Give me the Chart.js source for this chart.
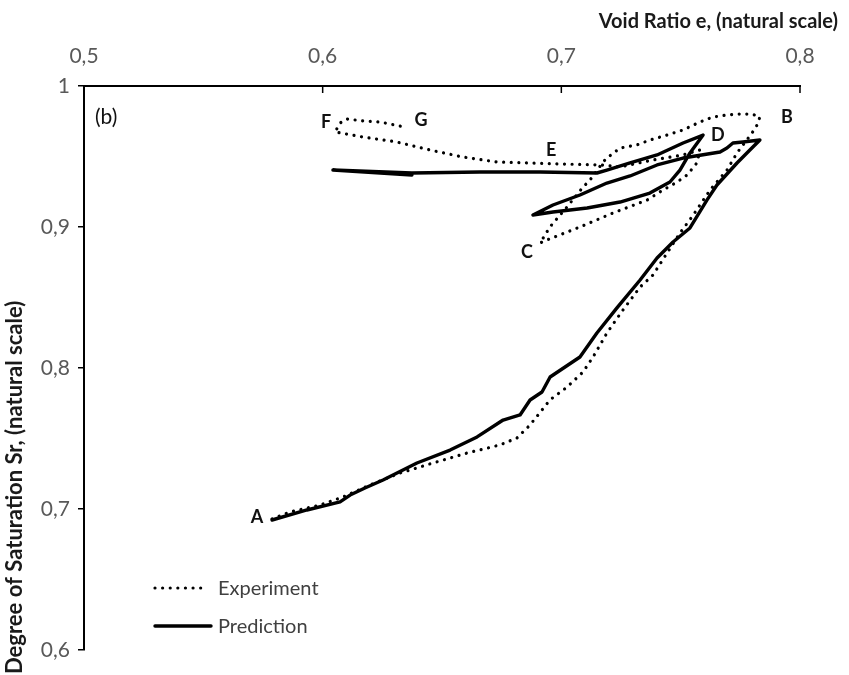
<!DOCTYPE html>
<html>
<head>
<meta charset="utf-8">
<script src="https://cdn.jsdelivr.net/npm/chart.js@4/dist/chart.umd.min.js"></script>
<style>
  html, body { margin: 0; padding: 0; background: #fff; }
  #wrap { width: 849px; height: 675px; position: relative; }
</style>
</head>
<body>
<div id="wrap"><canvas id="myChart" width="849" height="675"></canvas></div>
<script>
// void ratio e (x) and degree of saturation Sr (y), path A-B-C-D-E-F-G
const expE = [0.5788, 0.5863, 0.5989, 0.6085, 0.6198, 0.6324, 0.6462, 0.6605, 0.6743, 0.6814,
    0.6869, 0.6952, 0.7024, 0.7091, 0.7133, 0.7191, 0.7258, 0.7330, 0.7384, 0.7497,
    0.7547, 0.7581, 0.7623, 0.7694, 0.7736, 0.7799, 0.7820, 0.7832,
    0.7799, 0.7736, 0.7694, 0.7635, 0.7581, 0.7510, 0.7443, 0.7371, 0.7317, 0.7246,
    0.7191, 0.7175, 0.7120, 0.7091, 0.7024, 0.6952, 0.6911,
    0.6940, 0.7078, 0.7216, 0.7359, 0.7426, 0.7485, 0.7527, 0.7568, 0.7581,
    0.7510, 0.7384, 0.7246, 0.7162, 0.6994, 0.6869, 0.6730, 0.6588, 0.6450, 0.6311,
    0.6169, 0.6052,
    0.6073, 0.6102, 0.6169, 0.6240, 0.6345];
const expSr = [0.6929, 0.6979, 0.7028, 0.7085, 0.7170, 0.7255, 0.7326, 0.7397, 0.7454, 0.7504,
    0.7596, 0.7773, 0.7865, 0.7972, 0.8078, 0.8248, 0.8411, 0.8574, 0.8660, 0.8957,
    0.9071, 0.9156, 0.9262, 0.9404, 0.9525, 0.9667, 0.9723, 0.9780,
    0.9801, 0.9801, 0.9794, 0.9780, 0.9745, 0.9688, 0.9652, 0.9617, 0.9582, 0.9560,
    0.9489, 0.9461, 0.9333, 0.9284, 0.9142, 0.9000, 0.8887,
    0.8908, 0.9000, 0.9099, 0.9191, 0.9262, 0.9319, 0.9369, 0.9454, 0.9546,
    0.9511, 0.9475, 0.9426, 0.9440, 0.9447, 0.9454, 0.9461, 0.9496, 0.9546, 0.9603,
    0.9638, 0.9674,
    0.9738, 0.9766, 0.9752, 0.9745, 0.9709];

const predE = [0.5788, 0.5934, 0.6073, 0.6115, 0.6177, 0.6253, 0.6395, 0.6534, 0.6647, 0.6756,
    0.6827, 0.6869, 0.6919, 0.6953, 0.7078, 0.7149, 0.7233, 0.7330, 0.7401, 0.7468,
    0.7539, 0.7610, 0.7652, 0.7736, 0.7790, 0.7832,
    0.7761, 0.7719, 0.7694, 0.7665, 0.7510, 0.7401, 0.7288, 0.7191, 0.7078, 0.6965, 0.6881,
    0.6965, 0.7108, 0.7246, 0.7371, 0.7455, 0.7497, 0.7539, 0.7594,
    0.7510, 0.7401, 0.7288, 0.7191, 0.7149, 0.6911, 0.6659, 0.6374, 0.6043,
    0.6374];
const predSr = [0.6922, 0.6993, 0.7050, 0.7099, 0.7149, 0.7206, 0.7326, 0.7418, 0.7511, 0.7631,
    0.7667, 0.7773, 0.7830, 0.7936, 0.8078, 0.8248, 0.8426, 0.8624, 0.8780, 0.8894,
    0.8993, 0.9191, 0.9298, 0.9454, 0.9546, 0.9617,
    0.9603, 0.9596, 0.9560, 0.9532, 0.9489, 0.9440, 0.9362, 0.9312, 0.9227, 0.9156, 0.9085,
    0.9106, 0.9135, 0.9177, 0.9241, 0.9319, 0.9404, 0.9525, 0.9652,
    0.9596, 0.9511, 0.9454, 0.9404, 0.9383, 0.9390, 0.9390, 0.9383, 0.9404,
    0.9369];

const xTickLabels = ['0,5', '0,6', '0,7', '0,8'];
const yTickLabels = ['0,6', '0,7', '0,8', '0,9', '1'];
const xTitle = 'Void Ratio e, (natural scale)';
const yTitle = 'Degree of Saturation Sr, (natural scale)';

const markText = ['A', 'B', 'C', 'D', 'E', 'F', 'G'];
const markE = [0.5725, 0.7945, 0.6856, 0.7656, 0.6957, 0.6014, 0.6412];
const markSr = [0.6943, 0.9780, 0.8823, 0.9652, 0.9546, 0.9745, 0.9759];

function toPoints(xs, ys) {
    return xs.map((x, i) => ({ x: x, y: ys[i] }));
}

const labelPlugin = {
    id: 'labels',
    afterDatasetsDraw(chart) {
        const ctx = chart.ctx;
        const xs = chart.scales.x, ys = chart.scales.y;
        const area = chart.chartArea;
        ctx.save();

        // inward ticks on the top axis
        ctx.strokeStyle = '#000';
        ctx.lineWidth = 1.5;
        for (let i = 1; i < xTickLabels.length; i++) {
            const px = xs.getPixelForValue(0.5 + i * 0.1);
            ctx.beginPath();
            ctx.moveTo(px, area.top);
            ctx.lineTo(px, area.top + 7);
            ctx.stroke();
        }

        // axis titles
        ctx.fillStyle = '#1a1a1a';
        ctx.font = 'bold 20px Lato';
        ctx.textBaseline = 'middle';
        ctx.textAlign = 'right';
        ctx.fillText(xTitle, 838, 22);
        ctx.save();
        ctx.translate(15, 674);
        ctx.rotate(-Math.PI / 2);
        ctx.textAlign = 'left';
        ctx.font = 'bold 22px Lato';
        ctx.fillText(yTitle, 0, 0);
        ctx.restore();

        ctx.fillStyle = '#111';
        ctx.textAlign = 'center';
        ctx.font = 'bold 18px Lato';
        for (let i = 0; i < markText.length; i++) {
            ctx.fillText(markText[i], xs.getPixelForValue(markE[i]), ys.getPixelForValue(markSr[i]));
        }
        ctx.font = '21px Lato';
        ctx.textAlign = 'left';
        ctx.fillText('(b)', area.left + 11, area.top + 31);

        // legend
        const lx = area.left + 71;
        const rows = [area.bottom - 62, area.bottom - 24];
        chart.data.datasets.forEach((ds, i) => {
            ctx.beginPath();
            ctx.strokeStyle = '#000';
            ctx.lineWidth = ds.borderWidth;
            ctx.lineCap = 'round';
            ctx.setLineDash(ds.borderDash || []);
            ctx.moveTo(lx, rows[i]);
            ctx.lineTo(lx + (i == 0 ? 52 : 56), rows[i]);
            ctx.stroke();
            ctx.setLineDash([]);
            ctx.fillStyle = '#404040';
            ctx.font = '20px Lato';
            ctx.fillText(ds.label, lx + 63, rows[i] + 1);
        });
        ctx.restore();
    }
};

const ctx = document.getElementById('myChart');
new Chart(ctx, {
    type: 'scatter',
    data: {
        datasets: [{
            label: 'Experiment',
            data: toPoints(expE, expSr),
            showLine: true,
            borderColor: '#000',
            borderWidth: 3.2,
            borderDash: [0.01, 7.6],
            borderCapStyle: 'round',
            pointRadius: 0
        },
        {
            label: 'Prediction',
            data: toPoints(predE, predSr),
            showLine: true,
            borderColor: '#000',
            borderWidth: 3.4,
            borderJoinStyle: 'round',
            borderCapStyle: 'round',
            pointRadius: 0
        }]
    },
    options: {
        responsive: false,
        animation: false,
        devicePixelRatio: 1,
        layout: { padding: { left: 0, top: 0, right: 49, bottom: 25 } },
        plugins: {
            legend: { display: false },
            tooltip: { enabled: false }
        },
        scales: {
            x: {
                type: 'linear',
                position: 'top',
                min: 0.5,
                max: 0.8,
                afterFit(scale) { scale.height = 86; },
                ticks: {
                    stepSize: 0.1,
                    padding: 17,
                    color: '#595959',
                    font: { family: 'Lato', size: 21 },
                    callback: (v, i) => xTickLabels[i]
                },
                grid: { drawOnChartArea: false, drawTicks: false },
                border: { color: '#000', width: 2 }
            },
            y: {
                type: 'linear',
                min: 0.6,
                max: 1,
                afterFit(scale) { scale.width = 84; },
                ticks: {
                    stepSize: 0.1,
                    padding: 8,
                    color: '#595959',
                    font: { family: 'Lato', size: 21 },
                    callback: (v, i) => yTickLabels[i]
                },
                grid: { drawOnChartArea: false, tickLength: 6, color: '#000', lineWidth: 1.5 },
                border: { color: '#000', width: 2 }
            }
        }
    },
    plugins: [labelPlugin]
});
</script>
</body>
</html>
